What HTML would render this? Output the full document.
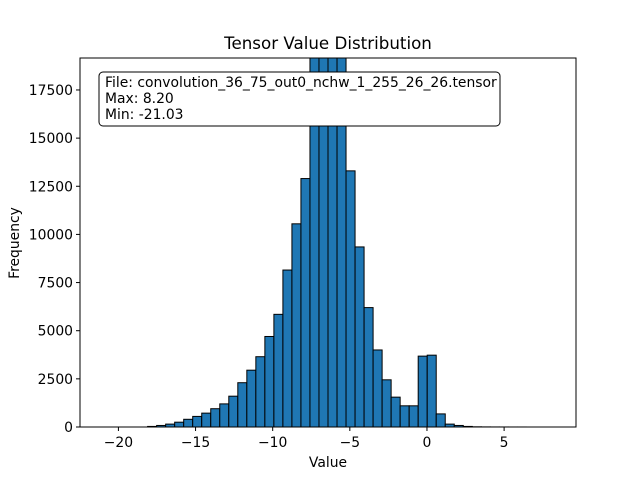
<!DOCTYPE html>
<html><head><meta charset="utf-8"><style>
body{margin:0;background:#fff;font-family:"Liberation Sans","DejaVu Sans",sans-serif}
svg text{font-family:"DejaVu Sans","Liberation Sans",sans-serif;fill:#000}
</style></head><body>
<svg id="chart" width="640" height="480">
<rect width="640" height="480" fill="#fff"/>
<text x="328" y="49" font-size="16.7" text-anchor="middle">Tensor Value Distribution</text>
<defs><clipPath id="clip"><rect x="80" y="58" width="496" height="369"/></clipPath></defs>
<g id="bars" clip-path="url(#clip)"></g>
<rect x="80" y="58" width="496" height="369" fill="none" stroke="#000" stroke-width="1"/>
<g id="xticks"></g><g id="yticks"></g>
<text x="328" y="467" font-size="13.9" text-anchor="middle">Value</text>
<text x="19" y="243" font-size="13.9" text-anchor="middle" transform="rotate(-90 19 243)">Frequency</text>
<g>
<rect x="99" y="72" width="401" height="54" rx="4" fill="#fff" stroke="#000" stroke-width="1"/>
<text x="105" y="87" font-size="13.9">File: convolution_36_75_out0_nchw_1_255_26_26.tensor</text>
<text x="105" y="103" font-size="13.9">Max: 8.20</text>
<text x="105" y="119" font-size="13.9">Min: -21.03</text>
</g>
</svg>
<script>
const minVal = -21.03;
const maxVal = 8.20;
const counts = [0,0,0,0,0,30,80,150,250,400,550,720,950,1200,1600,2300,2950,3650,4700,5850,8150,10550,12900,20000,21000,21000,20000,13300,9350,6200,4000,2450,1550,1100,1100,3680,3730,680,150,80,30,10,5,3,2,1,1,0,0,0];
const xTicks = [-20,-15,-10,-5,0,5];
const yTicks = [0,2500,5000,7500,10000,12500,15000,17500];
const NS="http://www.w3.org/2000/svg";
const X0=80,X1=576,Y0=427,Y1=58;
const xMin=-22.49,xMax=9.66,yMax=19160;
function sx(v){return X0+(v-xMin)/(xMax-xMin)*(X1-X0);}
function sy(v){return Y0-v/yMax*(Y0-Y1);}
const bw=(maxVal-minVal)/counts.length;
const bars=document.getElementById('bars');
counts.forEach((c,i)=>{
  const r=document.createElementNS(NS,'rect');
  const a=sx(minVal+i*bw),b=sx(minVal+(i+1)*bw);
  r.setAttribute('x',a);r.setAttribute('width',b-a);
  r.setAttribute('y',sy(c));r.setAttribute('height',Y0-sy(c));
  r.setAttribute('fill','#1f77b4');r.setAttribute('stroke','#000');r.setAttribute('stroke-width','1');
  
  
  bars.appendChild(r);
});
const xt=document.getElementById('xticks');
xTicks.forEach(t=>{
  const x=sx(t);
  const l=document.createElementNS(NS,'line');
  l.setAttribute('x1',x);l.setAttribute('x2',x);l.setAttribute('y1',Y0);l.setAttribute('y2',Y0+4);l.setAttribute('stroke','#000');
  
  
  xt.appendChild(l);
  const tx=document.createElementNS(NS,'text');
  tx.setAttribute('x',x);tx.setAttribute('y',447);tx.setAttribute('font-size','13.9');tx.setAttribute('text-anchor','middle');
  tx.textContent=t<0?'\u2212'+Math.abs(t):String(t);
  
  
  xt.appendChild(tx);
});
const yt=document.getElementById('yticks');
yTicks.forEach(t=>{
  const y=sy(t);
  const l=document.createElementNS(NS,'line');
  l.setAttribute('x1',X0-4);l.setAttribute('x2',X0);l.setAttribute('y1',y);l.setAttribute('y2',y);l.setAttribute('stroke','#000');
  
  
  yt.appendChild(l);
  const tx=document.createElementNS(NS,'text');
  tx.setAttribute('x',X0-7);tx.setAttribute('y',y+5);tx.setAttribute('font-size','13.9');tx.setAttribute('text-anchor','end');
  tx.textContent=String(t);
  
  
  yt.appendChild(tx);
});
</script>
</body></html>
